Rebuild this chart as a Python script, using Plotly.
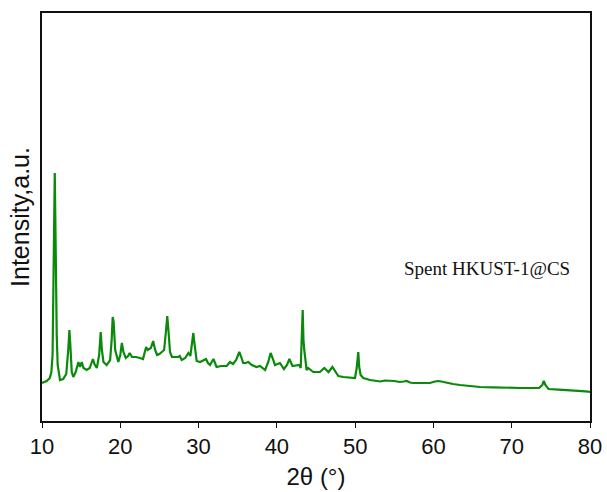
import plotly.graph_objects as go

two_theta = [
    10.0, 10.3, 10.6, 11.0, 11.2, 11.35, 11.45, 11.55, 11.63, 11.72, 11.8, 11.88, 12.0, 12.3,
    12.7, 13.1, 13.35, 13.5, 13.62, 13.8, 14.0, 14.3, 14.65, 14.85, 15.07, 15.3, 15.7,
    16.1, 16.5, 16.7, 17.0, 17.3, 17.5, 17.65, 17.85, 18.26, 18.7, 18.9, 19.03, 19.15,
    19.35, 19.75, 20.0, 20.2, 20.4, 20.7, 21.0, 21.2, 21.5, 22.0, 22.5, 22.9, 23.1, 23.3,
    23.5, 23.7, 23.9, 24.2, 24.45, 24.7, 25.0, 25.3, 25.6, 25.85, 26.0, 26.15, 26.35,
    26.6, 27.0, 27.4, 27.6, 27.85, 28.3, 28.7, 28.95, 29.2, 29.33, 29.45, 29.76, 30.2,
    30.5, 30.95, 31.2, 31.46, 31.9, 32.3, 32.9, 33.6, 34.0, 34.4, 34.8, 35.2, 35.45,
    35.7, 36.0, 36.35, 36.8, 37.4, 37.85, 38.5, 38.9, 39.2, 39.45, 39.76, 40.4, 40.9,
    41.3, 41.6, 42.0, 42.5, 42.87, 43.05, 43.2, 43.3, 43.4, 43.5, 43.8, 44.0, 44.65,
    45.5, 46.06, 46.6, 47.1, 47.4, 47.85, 48.5, 49.5, 49.98, 50.2, 50.4, 50.52, 50.7,
    51.04, 51.9, 53.2, 53.8, 55.0, 55.7, 56.2, 56.6, 57.0, 57.4, 59.0, 59.55, 60.2,
    60.6, 61.0, 61.7, 62.5, 63.4, 64.7, 65.95, 67.6, 69.4, 71.0, 72.8, 73.5, 73.9,
    74.1, 74.3, 74.7, 76.0, 77.0, 78.5, 79.8, 80.0,
]
intensity = [
    38, 39, 40, 43, 49, 66, 146, 200, 248, 191, 120, 86, 56, 41,
    42, 47, 71, 91, 76, 49, 44, 49, 59, 54, 59, 53, 51,
    53, 62, 57, 53, 66, 89, 71, 59, 56, 61, 81, 104, 99,
    71, 59, 66, 78, 69, 63, 65, 68, 64, 64, 63, 62, 68, 74,
    71, 72, 73, 80, 71, 66, 67, 69, 71, 91, 105, 91, 69,
    64, 64, 64, 65, 61, 63, 68, 65, 81, 88, 79, 60, 59,
    60, 62, 58, 56, 62, 54, 55, 55, 59, 57, 61, 69, 64,
    58, 58, 59, 56, 54, 55, 51, 59, 68, 63, 56, 58, 52,
    56, 62, 55, 56, 56, 53, 81, 111, 81, 71, 51, 53, 49,
    49, 53, 49, 54, 50, 45, 44, 43, 43, 53, 69, 54, 46,
    43, 41, 39.5, 40.5, 40, 39, 39.5, 40, 38.5, 38, 38, 38, 39.5,
    40, 39.5, 38, 37, 36, 35, 34, 33.7, 33, 33, 33, 33, 36,
    40, 36, 32, 31.3, 31, 30.2, 29.3, 29,
]

x_ticks = [10, 20, 30, 40, 50, 60, 70, 80]
sample_label = "Spent HKUST-1@CS"

fig = go.Figure()
fig.add_trace(go.Scatter(
    x=two_theta, y=intensity, mode="lines",
    line=dict(color="#0a8a0a", width=2.2),
    showlegend=False, hoverinfo="skip",
))

fig.add_annotation(
    x=66.9, y=153, xref="x", yref="y",
    text=sample_label, showarrow=False,
    font=dict(family="Liberation Serif", size=19, color="#111111"),
)

fig.update_layout(
    width=607, height=492,
    margin=dict(l=42, r=17, t=13, b=71),
    paper_bgcolor="white", plot_bgcolor="white",
    font=dict(family="Liberation Sans", color="#111111"),
)
fig.update_xaxes(
    range=[10, 80], tickmode="array", tickvals=x_ticks,
    ticktext=[str(v) for v in x_ticks],
    ticks="outside", ticklen=5, tickwidth=1.3, tickcolor="#111111",
    showline=True, linecolor="#111111", linewidth=1.5, mirror=True,
    showgrid=False, zeroline=False, automargin=False,
    tickfont=dict(size=22, family="Liberation Sans"),
    title=dict(text="2θ (°)", font=dict(size=24, family="Liberation Sans"), standoff=10),
)
fig.update_yaxes(
    range=[0, 408], showticklabels=False, ticks="",
    showline=True, linecolor="#111111", linewidth=1.5, mirror=True,
    showgrid=False, zeroline=False, automargin=False,
    title=dict(text="Intensity,a.u.", font=dict(size=25, family="Liberation Sans"), standoff=4),
)

fig.write_html("out.html")
